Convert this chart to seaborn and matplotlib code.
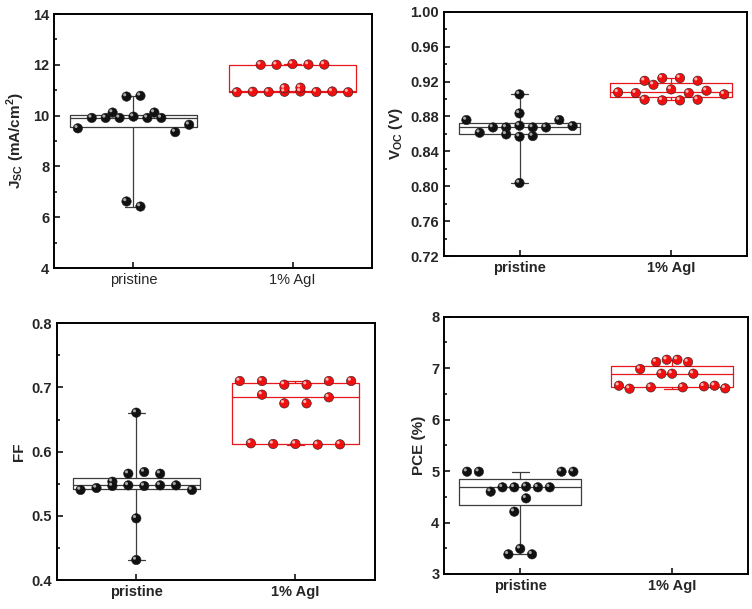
import numpy as np
import pandas as pd
import matplotlib.pyplot as plt
import matplotlib.transforms as mtransforms
from matplotlib.ticker import MultipleLocator
import seaborn as sns

# ── data ─────────────────────────────────────────────────────
groups = ['pristine', '1% AgI']

jsc_pristine = [9.50, 9.91, 9.91, 10.12, 9.91, 10.75, 6.62, 9.96, 10.78, 6.42,
                9.91, 10.12, 9.91, 9.35, 9.64]
jsc_agi = [10.92, 10.94, 10.93, 10.94, 10.95, 10.93, 10.95, 10.92,
           11.08, 11.10, 12.00, 12.00, 12.03, 12.01, 12.01]

voc_pristine = [0.8759, 0.8613, 0.8674, 0.8674, 0.8594, 0.9053, 0.8835, 0.8694,
                0.8568, 0.8037, 0.8674, 0.8575, 0.8674, 0.8759, 0.8690]
voc_agi = [0.9076, 0.9068, 0.9209, 0.8992, 0.9163, 0.9240, 0.8984, 0.9110,
           0.9240, 0.8984, 0.9068, 0.9209, 0.8992, 0.9095, 0.9053]

ff_pristine = [0.5403, 0.5434, 0.5532, 0.5465, 0.5657, 0.5475, 0.6608, 0.4961,
               0.4312, 0.5683, 0.5465, 0.5657, 0.5475, 0.5475, 0.5403]
ff_agi = [0.7101, 0.7101, 0.6888, 0.7044, 0.6753, 0.7044, 0.6753, 0.7101,
          0.6847, 0.7101, 0.6130, 0.6120, 0.6120, 0.6110, 0.6114]

pce_pristine = [4.988, 4.988, 4.600, 4.684, 4.684, 4.211, 3.382, 3.490, 4.697,
                4.470, 3.382, 4.684, 4.684, 4.988, 4.988]
pce_agi = [6.659, 6.601, 6.983, 6.627, 7.119, 6.892, 7.164, 6.892, 7.164,
           6.627, 7.119, 6.892, 6.646, 6.659, 6.607]

sns.set_style('ticks')
plt.rcParams['font.family'] = ['Liberation Sans', 'DejaVu Sans']
plt.rcParams['mathtext.fontset'] = 'custom'
plt.rcParams['mathtext.rm'] = 'Liberation Sans'
plt.rcParams['mathtext.bf'] = 'Liberation Sans:bold'

box_cols = {'pristine': '#3c3c3c', '1% AgI': '#e8171c'}
dot_cols = {'pristine': '#111111', '1% AgI': '#f01010'}
hi_cols = {'pristine': '#a8a8a8', '1% AgI': '#ffb3b3'}


def bin_offsets(values, bw, span=0.7):
    # Origin-style "data points in bins": points sharing a bin are spread evenly
    vals = np.asarray(values, dtype=float)
    keys = np.floor(vals / bw + 1e-9).astype(int)
    counts = pd.Series(keys).value_counts()
    step = span / max(counts.max() - 1, 1)
    offs = np.zeros(len(vals))
    for k in counts.index:
        idx = np.where(keys == k)[0]
        n = len(idx)
        offs[idx] = (np.arange(n) - (n - 1) / 2) * step
    return offs


def panel(ax, a, b, bw, ylim, major, ylabel, bold_x=True, fmt=None):
    df = pd.DataFrame({'group': [groups[0]] * len(a) + [groups[1]] * len(b),
                       'value': list(a) + list(b)})
    df['x'] = np.concatenate([0 + bin_offsets(a, bw), 1 + bin_offsets(b, bw)])

    sns.boxplot(data=df, x='group', y='value', hue='group', order=groups,
                hue_order=groups, palette=box_cols, fill=False, whis=(0, 100),
                width=0.8, linewidth=0.9, legend=False, ax=ax, capwidths=0.11)
    sns.scatterplot(data=df, x='x', y='value', hue='group', hue_order=groups,
                    palette=dot_cols, s=46, edgecolor='#222222', linewidth=0.4,
                    legend=False, ax=ax, zorder=3)
    shift = mtransforms.ScaledTranslation(-1.3 / 72, 1.3 / 72,
                                          ax.figure.dpi_scale_trans)
    sns.scatterplot(data=df, x='x', y='value', hue='group', hue_order=groups,
                    palette=hi_cols, s=5, linewidth=0, legend=False, ax=ax,
                    zorder=4, transform=ax.transData + shift)

    ax.set_xlim(-0.5, 1.5)
    ax.set_ylim(*ylim)
    ax.yaxis.set_major_locator(MultipleLocator(major))
    ax.yaxis.set_minor_locator(MultipleLocator(major / 2))
    if fmt:
        ax.yaxis.set_major_formatter(plt.FormatStrFormatter(fmt))
    ax.set_xticks([0, 1])
    ax.set_xticklabels(groups, fontsize=10.5,
                       fontweight='bold' if bold_x else 'normal')
    plt.setp(ax.get_yticklabels(), fontweight='bold', fontsize=10.5)
    ax.set_xlabel('')
    ax.set_ylabel(ylabel, fontsize=11, fontweight='bold')
    ax.tick_params(which='both', direction='in', top=False, right=False,
                   width=1.1, color='black')
    ax.tick_params(which='major', length=4)
    ax.tick_params(which='minor', length=2.5)
    for s in ax.spines.values():
        s.set_visible(True)
        s.set_linewidth(1.4)
        s.set_color('black')


fig = plt.figure(figsize=(7.52, 6.09), dpi=100)
ax1 = fig.add_axes([0.0718, 0.5599, 0.4229, 0.4171])
ax2 = fig.add_axes([0.5900, 0.5796, 0.4033, 0.4011])
ax3 = fig.add_axes([0.0754, 0.0476, 0.4233, 0.4215])
ax4 = fig.add_axes([0.5908, 0.0575, 0.4039, 0.4225])

panel(ax1, jsc_pristine, jsc_agi, 1.0, (4, 14), 2,
      r'$\mathbf{J_{SC}}$ (mA/cm$^{\mathbf{2}}$)', bold_x=False)
panel(ax2, voc_pristine, voc_agi, 0.02, (0.72, 1.00), 0.04,
      r'$\mathbf{V_{OC}}$ (V)', fmt='%.2f')
panel(ax3, ff_pristine, ff_agi, 0.025, (0.4, 0.8), 0.1, 'FF')
panel(ax4, pce_pristine, pce_agi, 0.5, (3, 8), 1, 'PCE (%)')

fig.savefig('out.png', dpi=100)
